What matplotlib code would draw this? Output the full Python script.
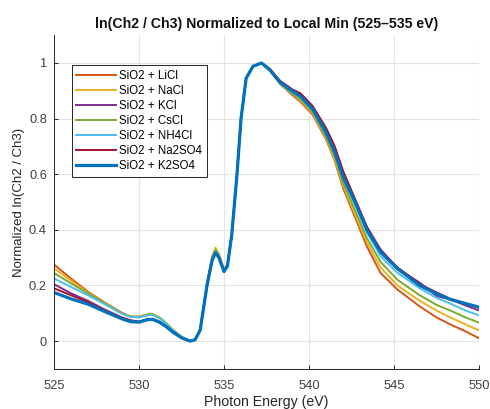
import matplotlib
matplotlib.use("Agg")
import matplotlib.pyplot as plt

# ---------------- data ----------------
energy = [525, 526, 527, 528, 529, 529.5, 530, 530.5, 530.8, 531.2, 531.6, 532,
          532.5, 533, 533.3, 533.6, 534.0, 534.3, 534.5, 534.7, 535.0, 535.2,
          535.45, 535.75, 536.0, 536.3, 536.7, 537.2, 537.7, 538.3, 539.0, 539.5,
          540.2, 541.0, 541.5, 542.0, 542.7, 543.4, 544.2, 545.2, 546.5, 547.5,
          548.3, 549.2, 550]

licl = [0.276, 0.225, 0.178, 0.138, 0.102, 0.088, 0.088, 0.095, 0.097, 0.085, 0.065, 0.040,
        0.015, 0.000, 0.004, 0.040, 0.205, 0.300, 0.330, 0.310, 0.255, 0.275,
        0.380, 0.590, 0.800, 0.945, 0.988, 1.000, 0.972, 0.925, 0.885, 0.860,
        0.815, 0.725, 0.650, 0.550, 0.445, 0.340, 0.245, 0.185, 0.125, 0.085,
        0.060, 0.035, 0.010]
nacl = [0.262, 0.218, 0.175, 0.136, 0.100, 0.088, 0.087, 0.096, 0.098, 0.085, 0.065, 0.040,
        0.015, 0.000, 0.004, 0.042, 0.210, 0.305, 0.336, 0.315, 0.258, 0.278,
        0.382, 0.590, 0.800, 0.945, 0.988, 1.000, 0.972, 0.925, 0.890, 0.865,
        0.820, 0.730, 0.655, 0.560, 0.455, 0.355, 0.265, 0.200, 0.145, 0.110,
        0.085, 0.060, 0.038]
kcl = [0.205, 0.172, 0.145, 0.113, 0.085, 0.075, 0.070, 0.079, 0.080, 0.070, 0.053, 0.032,
       0.012, 0.000, 0.005, 0.040, 0.200, 0.292, 0.320, 0.302, 0.252, 0.272,
       0.380, 0.590, 0.800, 0.945, 0.988, 1.000, 0.978, 0.935, 0.905, 0.890,
       0.845, 0.765, 0.700, 0.610, 0.510, 0.410, 0.330, 0.262, 0.210, 0.162,
       0.150, 0.128, 0.110]
cscl = [0.245, 0.208, 0.172, 0.135, 0.100, 0.088, 0.086, 0.095, 0.096, 0.084, 0.064, 0.040,
        0.015, 0.000, 0.004, 0.041, 0.205, 0.300, 0.328, 0.308, 0.254, 0.275,
        0.380, 0.590, 0.800, 0.945, 0.988, 1.000, 0.972, 0.925, 0.890, 0.870,
        0.825, 0.735, 0.665, 0.570, 0.470, 0.370, 0.285, 0.220, 0.165, 0.130,
        0.110, 0.085, 0.066]
nh4cl = [0.225, 0.195, 0.165, 0.132, 0.098, 0.087, 0.085, 0.093, 0.094, 0.082, 0.062, 0.038,
         0.014, 0.000, 0.004, 0.040, 0.202, 0.296, 0.324, 0.305, 0.252, 0.273,
         0.380, 0.590, 0.800, 0.945, 0.988, 1.000, 0.974, 0.928, 0.895, 0.875,
         0.830, 0.745, 0.675, 0.585, 0.490, 0.390, 0.305, 0.245, 0.190, 0.155,
         0.135, 0.110, 0.092]
na2so4 = [0.190, 0.165, 0.140, 0.110, 0.083, 0.074, 0.070, 0.078, 0.079, 0.069, 0.052, 0.032,
          0.012, 0.000, 0.005, 0.040, 0.200, 0.290, 0.318, 0.300, 0.250, 0.270,
          0.380, 0.590, 0.800, 0.945, 0.988, 1.000, 0.978, 0.935, 0.905, 0.890,
          0.845, 0.765, 0.700, 0.610, 0.510, 0.410, 0.325, 0.265, 0.205, 0.175,
          0.152, 0.135, 0.120]
k2so4 = [0.175, 0.152, 0.133, 0.106, 0.080, 0.070, 0.068, 0.077, 0.078, 0.068, 0.052, 0.032,
         0.012, 0.000, 0.005, 0.040, 0.200, 0.290, 0.318, 0.300, 0.250, 0.270,
         0.380, 0.590, 0.800, 0.945, 0.988, 1.000, 0.975, 0.930, 0.900, 0.880,
         0.835, 0.750, 0.680, 0.590, 0.500, 0.400, 0.320, 0.260, 0.200, 0.170,
         0.150, 0.135, 0.122]

labels = ["SiO2 + LiCl", "SiO2 + NaCl", "SiO2 + KCl", "SiO2 + CsCl",
          "SiO2 + NH4Cl", "SiO2 + Na2SO4", "SiO2 + K2SO4"]
series = [licl, nacl, kcl, cscl, nh4cl, na2so4, k2so4]
colors = ["#D95319", "#EDB120", "#7E2F8E", "#77AC30", "#4DBEEE", "#A2142F", "#0072BD"]
widths = [1.4, 1.4, 1.4, 1.4, 1.4, 1.4, 2.3]

xticks = [525, 530, 535, 540, 545, 550]
yticks = [0, 0.2, 0.4, 0.6, 0.8, 1]
ytick_labels = ["0", "0.2", "0.4", "0.6", "0.8", "1"]

# ---------------- figure ----------------
plt.rcParams['font.family'] = ['Liberation Sans', 'DejaVu Sans']
fig = plt.figure(figsize=(4.9, 4.09), dpi=100)
ax = fig.add_axes([0.110, 0.098, 0.868, 0.816])

for y, lab, c, w in zip(series, labels, colors, widths):
    ax.plot(energy, y, color=c, lw=w, label=lab)

ax.set_xlim(525, 550)
ax.set_ylim(-0.1, 1.1)
ax.set_xticks(xticks)
ax.set_yticks(yticks)
ax.set_yticklabels(ytick_labels)
ax.grid(True, color="#e3e3e3", lw=0.8)
ax.set_axisbelow(True)
for s in ["top", "right"]:
    ax.spines[s].set_visible(False)
for s in ["left", "bottom"]:
    ax.spines[s].set_color("#262626")
    ax.spines[s].set_linewidth(0.7)
ax.tick_params(direction="in", length=3, width=0.7, colors="#262626",
               labelsize=9.3, labelcolor="#404040")
ax.tick_params(axis="x", pad=8)
ax.tick_params(axis="y", pad=5)

ax.set_xlabel("Photon Energy (eV)", fontsize=10.2, color="#262626", labelpad=2)
ax.set_ylabel("Normalized ln(Ch2 / Ch3)", fontsize=9.5, color="#262626", labelpad=3)
ax.set_title("ln(Ch2 / Ch3) Normalized to Local Min (525\u2013535 eV)",
             fontsize=10.2, fontweight="bold", color="#111111", pad=5)

leg = ax.legend(loc="upper left", bbox_to_anchor=(0.042, 0.91), borderaxespad=0,
                fontsize=8.3, handlelength=3.4, handletextpad=0.3,
                borderpad=0.4, labelspacing=0.27, fancybox=False,
                edgecolor="#262626", framealpha=1)
leg.get_frame().set_linewidth(0.7)

fig.savefig("out.png", dpi=100)
